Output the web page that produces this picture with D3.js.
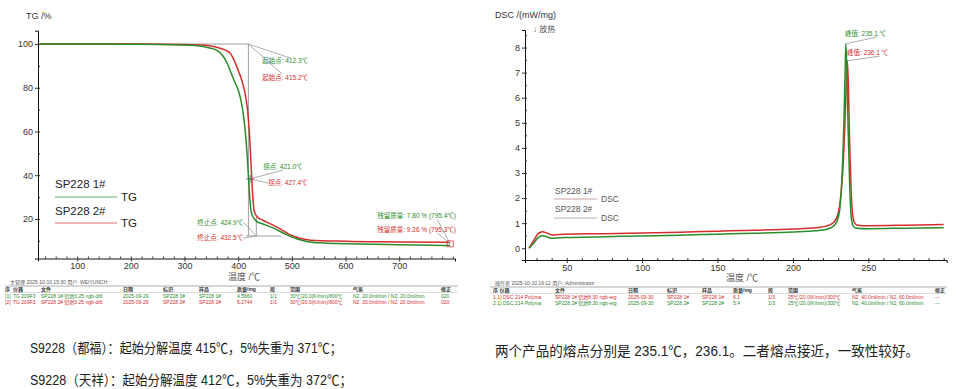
<!DOCTYPE html>
<html>
<head>
<meta charset="utf-8">
<script src="https://cdn.jsdelivr.net/npm/d3@7"></script>
<style>
body { margin: 0; background: #fff; }
text { font-family: "Liberation Sans", Arial, "Noto Sans CJK SC", sans-serif; }
</style>
</head>
<body>
<script>
const WIDTH = 970;
const HEIGHT = 389;
const GREEN = '#2b8c2b';
const RED = '#d42d2d';
const GRAY = '#a0a0a0';

// ---- TG data (temperature in C, mass in %) ----
var tgTemp1 = [30,100,200,280,320,345,360,372,380,386,393,400,404,408,412,415,417,419,421,423,426,435,445,465,491,510,530,560,600,700,795];
var tgMass1 = [100,100,99.9,99.7,99.3,98.3,97.2,94.4,91,87.3,83,79,75.5,70.5,63,55,48,40,32,25.5,21.8,18.8,17.8,15.9,12.7,10.8,9.6,9.0,8.7,8.2,7.8];
var tgTemp2 = [30,200,300,340,360,375,385,393,400,406,411,415,418,421,423,425,427,430,436,445,465,480,497,515,535,600,700,795];
var tgMass2 = [100,100,99.8,99.4,98.5,97.3,95.9,92.3,88,84,79.5,74.5,68.5,59,50,40,31,23.5,20.8,19.5,17.2,15.2,12.7,11.2,10.3,9.8,9.5,9.26];
var tgXTicks = [100,200,300,400,500,600,700];
var tgYTicks = [20,40,60,80,100];
var tgSeries = ['SP228 1#', 'SP228 2#'];

// ---- DSC data (temperature in C, heat flow in mW/mg) ----
var dscTemp1 = [25,28,31,34,37,40,45,50,75,100,125,150,175,200,215,222,226,229,231,233,234.5,235.5,236.1,236.8,237.5,238.5,239.5,241,243,250,275,300];
var dscHeat1 = [0,0.3,0.58,0.66,0.6,0.53,0.55,0.56,0.58,0.61,0.64,0.68,0.72,0.77,0.82,0.88,0.98,1.2,1.7,3.0,5.0,6.8,7.47,6.5,4.5,2.5,1.4,1.0,0.92,0.9,0.92,0.95];
var dscTemp2 = [25,28,31,34,37,40,45,50,75,100,125,150,175,200,215,222,226,229,231,232.5,233.8,234.6,235.1,235.8,236.6,237.6,238.6,240,242,250,275,300];
var dscHeat2 = [0,0.2,0.42,0.5,0.45,0.4,0.42,0.43,0.46,0.49,0.52,0.56,0.6,0.65,0.7,0.75,0.84,1.05,1.5,2.8,5.0,7.0,8.15,7.0,4.8,2.6,1.3,0.88,0.8,0.78,0.8,0.82];
var dscXTicks = [50,100,150,200,250];
var dscYTicks = [0,1,2,3,4,5,6,7,8];

// ---- table contents ----
var tgTableHead = ['序','仪器','文件','日期','标识','样品','质量/mg','段','范围','气氛','修正'];
var tgTableRow1 = ['[1]','TG 209F3','SP228 1# 铝坩3.25 ngb-dt6','2025-09-29','SP228 1#','SP228 1#','4.5660','1/1','30℃/20.0(K/min)/800℃','N2, 20.0ml/min / N2, 20.0ml/min','020'];
var tgTableRow2 = ['[2]','TG 209F3','SP228 2# 铝坩3.25 ngb-dt6','2025-09-29','SP228 2#','SP228 2#','5.2744','1/1','30℃/20.0(K/min)/800℃','N2, 20.0ml/min / N2, 20.0ml/min','020'];
var dscTableHead = ['序 仪器','文件','日期','标识','样品','质量/mg','段','范围','气氛','修正'];
var dscTableRow1 = ['1.1) DSC 214 Polyma','SP228 1# 铝坩8.30 ngb-etg','2025-09-30','SP228 1#','SP228 1#','6.1','1/3','25℃/20.0(K/min)/300℃','N2, 40.0ml/min / N2, 60.0ml/min','---'];
var dscTableRow2 = ['2.1) DSC 214 Polyma','SP228 2# 铝坩8.30 ngb-etg','2025-09-30','SP228 2#','SP228 2#','5.4','1/3','25℃/20.0(K/min)/300℃','N2, 40.0ml/min / N2, 60.0ml/min','---'];

var notes = [
    'S9228（都福）：起始分解温度 415℃，5%失重为 371℃；',
    'S9228（天祥）：起始分解温度 412℃，5%失重为 372℃；',
    '两个产品的熔点分别是 235.1℃，236.1。二者熔点接近，一致性较好。'
];

var zip = function (xs, ys) { return xs.map(function (t, i) { return [t, ys[i]]; }); };

var svg = d3.select('body').append('svg')
    .attr('width', WIDTH)
    .attr('height', HEIGHT);

var drawAxes = function (g, x, y, xTicks, yTicks, xMinor, yMinor, xFmt) {
    g.append('g').attr('transform', 'translate(0,' + y.range()[0] + ')')
        .call(d3.axisBottom(x).tickValues(xTicks).tickSizeOuter(0).tickSize(3).tickPadding(1.5).tickFormat(xFmt));
    g.append('g').attr('transform', 'translate(0,' + y.range()[0] + ')')
        .call(d3.axisTop(x).tickValues(xMinor).tickSizeOuter(0).tickSize(2).tickFormat(''))
        .select('.domain').remove();
    g.append('g').attr('transform', 'translate(' + x.range()[0] + ',0)')
        .call(d3.axisLeft(y).tickValues(yTicks).tickSizeOuter(0).tickSize(3).tickPadding(2));
    g.append('g').attr('transform', 'translate(' + x.range()[0] + ',0)')
        .call(d3.axisRight(y).tickValues(yMinor).tickSizeOuter(0).tickSize(2).tickFormat(''))
        .select('.domain').remove();
    g.selectAll('.tick text').attr('font-size', 9).attr('fill', '#333')
        .attr('font-family', '"Liberation Sans", Arial, sans-serif');
    g.selectAll('.domain').attr('stroke', '#111');
    g.selectAll('.tick line').attr('stroke', '#333');
};

var drawTable = function (g, x0, x1, top, cols, head, rows, colors) {
    g.append('line').attr('x1', x0).attr('x2', x1).attr('y1', top).attr('y2', top)
        .attr('stroke', '#777').attr('stroke-width', 0.6);
    g.append('line').attr('x1', x0).attr('x2', x1).attr('y1', top + 6.5).attr('y2', top + 6.5)
        .attr('stroke', '#bbb').attr('stroke-width', 0.5);
    [head].concat(rows).forEach(function (r, ri) {
        g.selectAll(null).data(r).enter().append('text')
            .attr('x', function (d, i) { return cols[i]; })
            .attr('y', top + 5 + ri * 6.5)
            .attr('font-size', 5)
            .attr('font-weight', ri === 0 ? 'bold' : 'normal')
            .attr('fill', ri === 0 ? '#333' : colors[ri - 1])
            .text(function (d) { return d; });
    });
};

// ================= TG chart =================
var loadTG = function () {
    var g = svg.append('g');
    var x = d3.scaleLinear().domain([27, 804]).range([38, 455]);
    var y = d3.scaleLinear().domain([1.9, 106.1]).range([258.5, 30.7]);

    drawAxes(g, x, y, tgXTicks, tgYTicks, d3.range(40, 801, 20), d3.range(10, 106, 10), d3.format('d'));

    g.append('text').attr('x', 26).attr('y', 19).attr('font-size', 9).attr('fill', '#333').text('TG /%');
    g.append('text').attr('x', 244).attr('y', 280).attr('text-anchor', 'middle')
        .attr('font-size', 9).attr('fill', '#555').text('温度 /℃');

    var line = d3.line().x(function (d) { return x(d[0]); }).y(function (d) { return y(d[1]); });

    // tangent construction lines
    var guides = [
        [[30, 100], [419, 100]],
        [[419, 100], [419, 12.2]],
        [[433.8, 21], [433.8, 12.2]],
        [[415, 12.2], [480, 12.2]]
    ];
    g.selectAll(null).data(guides).enter().append('path')
        .attr('d', line).attr('fill', 'none').attr('stroke', GRAY).attr('stroke-width', 1);

    var curve = d3.line().x(function (d) { return x(d[0]); }).y(function (d) { return y(d[1]); })
        .curve(d3.curveMonotoneX);
    g.append('path').attr('d', curve(zip(tgTemp2, tgMass2)))
        .attr('fill', 'none').attr('stroke', RED).attr('stroke-width', 1.5);
    g.append('path').attr('d', curve(zip(tgTemp1, tgMass1)))
        .attr('fill', 'none').attr('stroke', GREEN).attr('stroke-width', 1.5);

    // annotations: [label, colour, text pos, anchor, leader]
    var ann = [
        ['起始点: 412.3℃', GREEN, [444.8, 91.3], 'start', [[419, 100], [497, 93.6]]],
        ['起始点: 415.2℃', RED, [444.8, 83.6], 'start', [[419, 100], [482, 86.3]]],
        ['拐点: 421.0℃', GREEN, [446.6, 42.9], 'start', [[422.4, 38.3], [484, 42.4]]],
        ['拐点: 427.4℃', RED, [455.9, 35.5], 'start', [[422.4, 38.3], [455.9, 36.4]]],
        ['终止点: 424.9℃', GREEN, [409.3, 17.2], 'end', [[409.3, 18.6], [433.8, 12.2]]],
        ['终止点: 432.5℃', RED, [409.3, 10.3], 'end', [[409.3, 11.2], [433.8, 12.2]]],
        ['残留质量: 7.80 % (795.4℃)', GREEN, [659.1, 20.4], 'start', [[770.9, 19.9], [795, 8.6]]],
        ['残留质量: 9.26 % (795.3℃)', RED, [659.1, 14.0], 'start', [[770.9, 13.6], [795, 8.6]]]
    ];
    g.selectAll(null).data(ann).enter().append('path')
        .attr('d', function (d) { return line(d[4]); })
        .attr('fill', 'none').attr('stroke', '#8a8a8a').attr('stroke-width', 0.7);
    g.selectAll(null).data(ann).enter().append('text')
        .attr('x', function (d) { return x(d[2][0]); })
        .attr('y', function (d) { return y(d[2][1]); })
        .attr('text-anchor', function (d) { return d[3]; })
        .attr('font-size', 6.5)
        .attr('fill', function (d) { return d[1]; })
        .text(function (d) { return d[0]; });

    // inflection cross and residual marker
    g.append('path').attr('d', 'M' + (x(422.4) - 4) + ',' + y(38.3) + 'h8M' + x(422.4) + ',' + (y(38.3) - 4) + 'v8')
        .attr('stroke', '#444').attr('stroke-width', 0.7);
    g.append('rect').attr('x', x(795) - 3).attr('y', y(8.6) - 3).attr('width', 6).attr('height', 6)
        .attr('fill', 'none').attr('stroke', RED).attr('stroke-width', 0.7);

    // legend
    var leg = g.append('g');
    [GREEN, RED].forEach(function (c, i) {
        leg.append('text').attr('x', 55).attr('y', 188 + i * 27).attr('font-size', 11.5).attr('fill', '#222').text(tgSeries[i]);
        leg.append('line').attr('x1', 55).attr('x2', 117).attr('y1', 197 + i * 26).attr('y2', 197 + i * 26)
            .attr('stroke', c).attr('stroke-width', 1).attr('opacity', 0.7);
        leg.append('text').attr('x', 121).attr('y', 201 + i * 26).attr('font-size', 11.5).attr('fill', '#222').text('TG');
    });

    g.append('text').attr('x', 10).attr('y', 284).attr('font-size', 5).attr('fill', '#555')
        .text('主管理   2025-10-10 15:30    用户: WEIYUNCH');
    drawTable(g, 5, 458, 286, [5, 13, 41, 123, 163, 199, 237, 270, 290, 353, 441],
        tgTableHead, [tgTableRow1, tgTableRow2], [GREEN, RED]);
};

// ================= DSC chart =================
var loadDSC = function () {
    var g = svg.append('g');
    var x = d3.scaleLinear().domain([22.3, 302]).range([525, 946.7]);
    var y = d3.scaleLinear().domain([-0.47, 8.7]).range([260, 30]);

    drawAxes(g, x, y, dscXTicks, dscYTicks, d3.range(30, 301, 10), d3.range(0.5, 8.6, 0.5), d3.format('d'));

    g.append('text').attr('x', 495).attr('y', 18).attr('font-size', 9).attr('fill', '#333').text('DSC /(mW/mg)');
    g.append('text').attr('x', 533).attr('y', 32).attr('font-size', 8).attr('fill', '#555').text('↓ 放热');
    g.append('text').attr('x', 742).attr('y', 281).attr('text-anchor', 'middle')
        .attr('font-size', 9).attr('fill', '#555').text('温度 /℃');

    var curve = d3.line().x(function (d) { return x(d[0]); }).y(function (d) { return y(d[1]); })
        .curve(d3.curveMonotoneX);
    g.append('path').attr('d', curve(zip(dscTemp1, dscHeat1)))
        .attr('fill', 'none').attr('stroke', RED).attr('stroke-width', 1.5);
    g.append('path').attr('d', curve(zip(dscTemp2, dscHeat2)))
        .attr('fill', 'none').attr('stroke', GREEN).attr('stroke-width', 1.5);

    var line = d3.line().x(function (d) { return x(d[0]); }).y(function (d) { return y(d[1]); });
    var ann = [
        ['峰值: 235.1 ℃', GREEN, [234.5, 8.46], [[235.1, 8.15], [255.8, 8.42]]],
        ['峰值: 236.1 ℃', RED, [235.9, 7.70], [[236.1, 7.47], [257.8, 7.66]]]
    ];
    g.selectAll(null).data(ann).enter().append('path')
        .attr('d', function (d) { return line(d[3]); })
        .attr('fill', 'none').attr('stroke', '#8a8a8a').attr('stroke-width', 0.7);
    g.selectAll(null).data(ann).enter().append('text')
        .attr('x', function (d) { return x(d[2][0]); })
        .attr('y', function (d) { return y(d[2][1]); })
        .attr('font-size', 6.5)
        .attr('fill', function (d) { return d[1]; })
        .text(function (d) { return d[0]; });

    // legend
    var leg = g.append('g');
    ['#c9a0a0', '#a9b4a9'].forEach(function (c, i) {
        leg.append('text').attr('x', 555).attr('y', 194 + i * 18).attr('font-size', 8.5).attr('fill', '#555').text(tgSeries[i]);
        leg.append('line').attr('x1', 554).attr('x2', 597).attr('y1', 199 + i * 19).attr('y2', 199 + i * 19)
            .attr('stroke', c).attr('stroke-width', 1);
        leg.append('text').attr('x', 601).attr('y', 202 + i * 19).attr('font-size', 8.5).attr('fill', '#555').text('DSC');
    });

    g.append('text').attr('x', 495).attr('y', 285).attr('font-size', 5).attr('fill', '#555')
        .text('操作者   2025-10-10 16:12    用户: Administrator');
    drawTable(g, 490, 947, 287, [493, 555, 628, 667, 702, 733, 768, 788, 852, 935],
        dscTableHead, [dscTableRow1, dscTableRow2], [RED, GREEN]);
};

window.onload = function () {
    loadTG();
    loadDSC();
    var pos = [[30, 353, 312], [30, 385, 322], [495, 356, 424]];
    svg.selectAll(null).data(notes).enter().append('text')
        .attr('x', function (d, i) { return pos[i][0]; })
        .attr('y', function (d, i) { return pos[i][1]; })
        .attr('textLength', function (d, i) { return pos[i][2]; })
        .attr('lengthAdjust', 'spacingAndGlyphs')
        .attr('font-family', '"Noto Sans CJK SC", sans-serif')
        .attr('font-size', 14)
        .attr('fill', '#222')
        .text(function (d) { return d; });
};
</script>
</body>
</html>
